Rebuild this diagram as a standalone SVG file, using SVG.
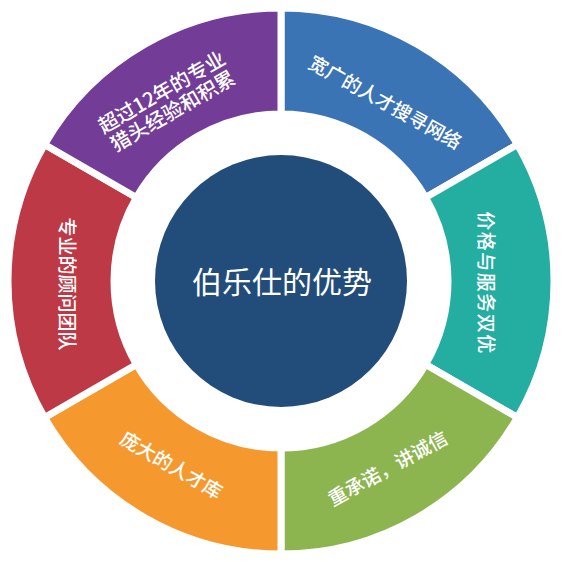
<svg xmlns="http://www.w3.org/2000/svg" width="564" height="562" viewBox="0 0 564 562">
<style>
.seg{stroke:#fff;stroke-width:7;stroke-linejoin:miter}
.lbl{font-family:"Noto Sans CJK SC","Liberation Sans",sans-serif;font-size:19px;font-weight:500;fill:#fff;text-anchor:middle;dominant-baseline:central}
.big{font-size:20px}
.ctr{font-family:"Noto Sans CJK SC","Liberation Serif",serif;font-size:30px;fill:#fff;text-anchor:middle;dominant-baseline:central;font-weight:400}
</style>
<rect width="564" height="562" fill="#fff"/>
<g id="seg-blue">
<path class="seg" fill="#3B74B5" d="M281 8 A273 273 0 0 1 517.43 144.5 L425.62 197.5 A167 167 0 0 0 281 114 Z"/>
<text class="lbl" transform="translate(386,101) rotate(29)">宽广的人才搜寻网络</text>
</g>
<g id="seg-teal">
<path class="seg" fill="#24ADA1" d="M517.43 144.5 A273 273 0 0 1 517.43 417.5 L425.62 364.5 A167 167 0 0 0 425.62 197.5 Z"/>
<text class="lbl" transform="translate(487,283) rotate(90)" letter-spacing="1.5">价格与服务双优</text>
</g>
<g id="seg-green">
<path class="seg" fill="#8CB54F" d="M517.43 417.5 A273 273 0 0 1 281 554 L281 448 A167 167 0 0 0 425.62 364.5 Z"/>
<text class="lbl" transform="translate(387,467) rotate(-29)">重承诺，讲诚信</text>
</g>
<g id="seg-orange">
<path class="seg" fill="#F5992E" d="M281 554 A273 273 0 0 1 44.57 417.5 L136.38 364.5 A167 167 0 0 0 281 448 Z"/>
<text class="lbl" transform="translate(172,464) rotate(30)">庞大的人才库</text>
</g>
<g id="seg-red">
<path class="seg" fill="#BD3946" d="M44.57 417.5 A273 273 0 0 1 44.57 144.5 L136.38 197.5 A167 167 0 0 0 136.38 364.5 Z"/>
<text class="lbl" transform="translate(68,284) rotate(90)">专业的顾问团队</text>
</g>
<g id="seg-purple">
<path class="seg" fill="#733C96" d="M44.57 144.5 A273 273 0 0 1 281 8 L281 114 A167 167 0 0 0 136.38 197.5 Z"/>
<text class="lbl big" transform="translate(161,91) rotate(-30)">超过12年的专业</text>
<text class="lbl big" transform="translate(172,110) rotate(-30)">猎头经验和积累</text>
</g>
<g id="center">
<circle cx="281" cy="281" r="126" fill="#224D7B"/>
<text class="ctr" x="282" y="280">伯乐仕的优势</text>
</g>
<g id="connectors"/>
</svg>
